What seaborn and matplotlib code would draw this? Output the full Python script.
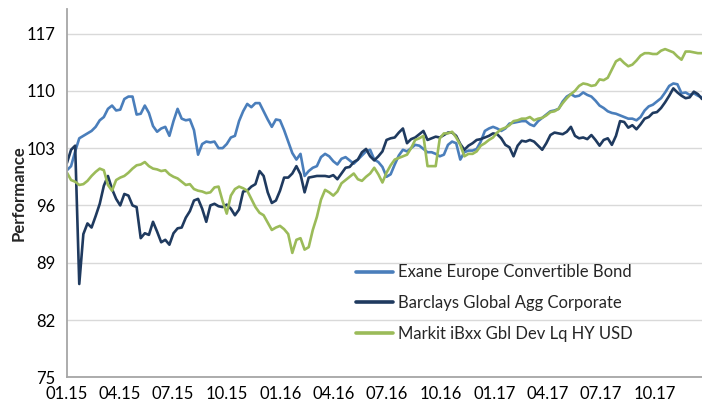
import matplotlib
matplotlib.use("Agg")
import matplotlib.pyplot as plt
import matplotlib.dates as mdates
import numpy as np
import pandas as pd
import seaborn as sns

# Weekly index levels, rebased to 100 at the start of 2015
dates = pd.date_range("2015-01-01", periods=156, freq="7D")

exane = [
    100.3, 100.8, 102.6, 104.2, 104.5, 104.8, 105.1, 105.6, 106.4, 106.8,
    107.8, 108.2, 107.6, 107.7, 109.0, 109.3, 109.3, 107.1, 107.2, 108.2,
    107.3, 105.7, 105.0, 105.4, 105.6, 104.5, 106.3, 107.8, 106.6, 106.4,
    106.5, 105.2, 102.2, 103.5, 103.8, 103.7, 103.8, 103.0, 103.0, 103.5,
    104.3, 104.5, 106.3, 107.5, 108.4, 108.0, 108.5, 108.5, 107.5, 106.5,
    105.6, 106.5, 106.4, 105.2, 103.8, 102.4, 101.6, 102.3, 99.6, 100.2,
    100.6, 100.8, 101.9, 102.3, 102.0, 101.4, 101.0, 101.7, 101.9, 101.5,
    101.1, 101.6, 102.1, 102.6, 102.8, 101.6, 101.3, 100.7, 99.5, 99.8,
    101.0, 102.1, 102.8, 102.6, 103.0, 103.4, 103.3, 102.9, 102.5, 102.5,
    102.3, 102.0, 102.2, 103.4, 103.8, 103.6, 101.6, 102.5, 102.7, 102.7,
    102.9, 103.8, 105.1, 105.4, 105.6, 105.4, 105.1, 105.4, 106.0, 106.1,
    106.2, 106.3, 106.3, 105.9, 105.7, 106.3, 106.7, 107.1, 107.5, 107.6,
    107.8, 108.7, 109.3, 109.6, 109.3, 109.4, 109.8, 109.5, 109.3, 108.8,
    108.2, 107.9, 107.5, 107.3, 107.2, 107.0, 106.8, 106.6, 106.6, 106.4,
    106.8, 107.6, 108.1, 108.3, 108.7, 109.1, 109.8, 110.6, 110.9, 110.8,
    109.7, 109.8, 109.5, 109.7, 109.4, 109.2,
]

barclays = [
    101.2, 102.8, 103.3, 86.4, 92.5, 93.8, 93.3, 94.7, 96.2, 98.4,
    99.6, 98.0, 96.8, 96.0, 97.4, 97.2, 96.0, 95.8, 92.0, 92.6,
    92.4, 94.0, 92.8, 91.5, 91.8, 91.2, 92.6, 93.2, 93.3, 94.5,
    95.3, 96.6, 96.8, 95.6, 94.0, 96.0, 96.2, 95.9, 95.8, 96.1,
    95.6, 94.8, 95.5, 97.7, 97.8, 98.3, 98.6, 100.2, 99.6, 97.6,
    96.3, 96.6, 97.8, 99.4, 99.4, 99.9, 100.8, 99.8, 97.6, 99.4,
    99.5, 99.6, 99.6, 99.6, 99.5, 99.7, 99.2, 99.9, 100.6, 100.7,
    101.3, 101.6, 102.5, 102.9, 102.0, 101.5, 102.0, 102.6, 104.0, 104.2,
    104.3, 104.9, 105.4, 103.6, 104.1, 104.3, 104.7, 105.1, 104.0, 104.2,
    104.4, 104.3, 104.6, 104.9, 104.9, 104.5, 103.5, 102.8, 103.3, 103.6,
    104.0, 104.1, 104.3, 104.5, 104.8, 104.7, 104.2, 103.4, 103.1, 102.0,
    103.3, 103.9, 103.8, 104.0, 103.8, 103.3, 102.8, 103.6, 104.6, 104.9,
    104.8, 104.7, 105.0, 105.6, 104.5, 104.2, 104.3, 104.1, 104.6, 104.0,
    103.3, 104.0, 104.2, 103.4, 104.5, 106.3, 106.2, 105.5, 105.8, 105.3,
    105.9, 106.6, 106.8, 107.3, 107.4, 107.9, 108.6, 109.4, 110.3, 109.8,
    109.4, 109.1, 109.2, 109.9, 109.6, 109.0,
]

markit = [
    100.0, 99.1, 98.9, 98.5, 98.6, 99.0, 99.6, 100.1, 100.5, 100.3,
    98.5, 97.8, 99.1, 99.4, 99.6, 100.0, 100.5, 100.9, 101.0, 101.3,
    100.8, 100.5, 100.4, 100.2, 100.3, 99.8, 99.5, 99.3, 98.9, 98.5,
    98.6, 98.0, 97.8, 97.7, 97.5, 97.6, 98.2, 98.3, 96.5, 95.0,
    97.2, 98.0, 98.3, 98.1, 97.8, 96.8, 95.8, 95.1, 94.8, 93.9,
    93.0, 93.3, 93.5, 93.1, 92.5, 90.2, 91.8, 92.0, 90.6, 90.9,
    93.0, 94.6, 96.7, 97.9, 97.6, 97.2, 97.7, 98.7, 99.1, 99.5,
    99.9, 99.2, 99.0, 99.5, 99.9, 100.6, 99.8, 98.8, 100.0, 100.9,
    101.6, 101.8, 102.0, 102.2, 103.0, 104.0, 104.2, 104.5, 100.8, 100.8,
    100.8, 104.2, 104.8, 104.8, 105.0, 104.3, 103.4, 102.0, 102.3, 102.3,
    102.6, 103.3, 103.6, 104.0, 104.3, 104.9, 105.3, 105.5, 105.8, 106.3,
    106.4, 106.6, 106.6, 106.8, 106.4, 106.6, 106.7, 107.0, 107.4, 107.5,
    107.8, 108.5, 109.1, 109.6, 110.0, 110.6, 110.9, 110.8, 110.6, 110.7,
    111.4, 111.3, 111.6, 112.6, 113.6, 113.9, 113.4, 113.0, 113.2, 113.7,
    114.3, 114.6, 114.6, 114.5, 114.5, 114.9, 115.1, 114.9, 114.7, 114.2,
    113.8, 114.8, 114.8, 114.7, 114.6, 114.6,
]

series_names = [
    "Exane Europe Convertible Bond",
    "Barclays Global Agg Corporate",
    "Markit iBxx Gbl Dev Lq HY USD",
]
series_colors = ["#4A7EBB", "#1F3A5F", "#9BBB59"]
y_ticks = [75, 82, 89, 96, 103, 110, 117]
x_tick_dates = pd.date_range("2015-01-01", "2017-10-01", freq="QS")

df = pd.concat(
    [
        pd.DataFrame({"date": dates, "value": vals, "index": name})
        for name, vals in zip(series_names, [exane, barclays, markit])
    ],
    ignore_index=True,
)

sns.set_style("white")
plt.rcParams["font.family"] = ["Lato", "DejaVu Sans"]

fig = plt.figure(figsize=(7.02, 4.08), dpi=100)
ax = fig.add_axes([0.0954, 0.0752, 0.9046, 0.9028])

sns.lineplot(
    data=df, x="date", y="value", hue="index",
    hue_order=series_names, palette=series_colors,
    linewidth=1.9, ax=ax, legend=True,
)

ax.set_ylim(75, 120)
ax.set_yticks(y_ticks)
ax.set_xlim(dates[0], dates[-1])
ax.set_xticks(x_tick_dates)
ax.xaxis.set_major_formatter(mdates.DateFormatter("%m.%y"))

ax.grid(axis="y", color="#D9D9D9", linewidth=1.0)
ax.set_axisbelow(True)
for side in ["top", "right"]:
    ax.spines[side].set_visible(False)
for side in ["left", "bottom"]:
    ax.spines[side].set_color("#A6A6A6")
    ax.spines[side].set_linewidth(1.3)

ax.tick_params(axis="both", which="major", labelsize=12, colors="#000000",
               length=4, width=1.2, direction="out")
ax.tick_params(axis="x", pad=2, color="#A6A6A6")
ax.tick_params(axis="y", pad=4, color="#A6A6A6")

ax.set_xlabel("")
ax.set_ylabel("Performance", fontsize=12, fontweight="bold", labelpad=0)

handles, labels = ax.get_legend_handles_labels()
for h in handles:
    h.set_linewidth(2.6)
ax.legend(
    handles, labels, frameon=False, fontsize=12,
    loc="upper left", bbox_to_anchor=(0.507, 0.352),
    bbox_transform=fig.transFigure, borderpad=0, borderaxespad=0,
    handlelength=2.2, handletextpad=0.35, labelspacing=0.88,
)

fig.savefig("out.png", dpi=100)
